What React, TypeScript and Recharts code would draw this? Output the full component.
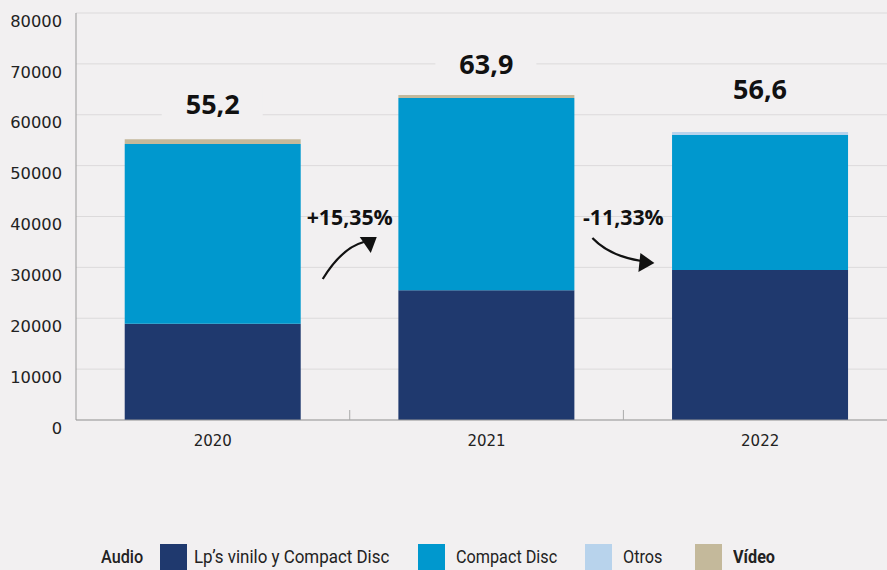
import React from 'react';
import { BarChart, Bar, XAxis, YAxis, CartesianGrid, LabelList } from 'recharts';

const years = ['2020', '2021', '2022'];
const lpsVinilo = [18900, 25500, 29500];
const compactDisc = [35350, 37800, 26500];
const otros = [0, 0, 600];
const video = [950, 600, 0];
const totalLabels = ['55,2', '63,9', '56,6'];
const changeLabels = ['+15,35%', '-11,33%'];
const yTicks = [0, 10000, 20000, 30000, 40000, 50000, 60000, 70000, 80000];

const seriesNames = ['Lp\u2019s vinilo y Compact Disc', 'Compact Disc', 'Otros', 'V\u00eddeo'];
const legendTitle = 'Audio';
const COLORS = ['#1f396e', '#0098ce', '#b8d3ec', '#c4b99b'];
const BG = '#f2f0f1';
const GAP = 0.178;

const data = years.map((y, i) => ({
  year: y,
  lps: lpsVinilo[i],
  cd: compactDisc[i],
  otros: otros[i],
  video: video[i],
}));

const TOTAL_OFFSETS = [35, 30, 42];

const Annotations = (props: any) => {
  const { x, y, width, height, value, index } = props;
  const base = y + height;
  const ppu = height / value;
  const total = lpsVinilo[index] + compactDisc[index] + otros[index] + video[index];
  const topY = base - total * ppu;
  const cx = x + width / 2;
  const ly = topY - TOTAL_OFFSETS[index];
  const boundary = x - (width * GAP) / (1 - 2 * GAP);
  const els: any[] = [];
  els.push(
    <g key="t">
      <rect x={cx - 51} y={ly - 17} width={101} height={34} fill={BG} />
      <text x={cx} y={ly} dy="0.35em" textAnchor="middle" fontFamily="Open Sans" fontWeight={700} fontSize={27} fill="#111">
        {totalLabels[index]}
      </text>
    </g>
  );
  if (index >= 1) {
    els.push(<line key="tk" x1={boundary} x2={boundary} y1={base - 10} y2={base} stroke="#aaa" strokeWidth={1} />);
    const lbl = changeLabels[index - 1];
    const up = lbl.startsWith('+');
    els.push(
      <text key="c" x={boundary} y={base - 202} dy="0.35em" textAnchor="middle" fontFamily="Open Sans" fontWeight={700} fontSize={21.3} fill="#111">
        {lbl}
      </text>
    );
    if (up) {
      const sx = boundary - 27, sy = base - 141;
      els.push(
        <g key="a">
          <path d={`M ${sx} ${sy} Q ${boundary - 8} ${base - 172} ${boundary + 14} ${base - 178}`} stroke="#111" strokeWidth={2.2} fill="none" />
          <polygon points={`${boundary + 27},${base - 183} ${boundary + 10},${base - 183} ${boundary + 21},${base - 167}`} fill="#111" />
        </g>
      );
    } else {
      const sx = boundary - 31, sy = base - 182;
      els.push(
        <g key="a">
          <path d={`M ${sx} ${sy} Q ${boundary - 14} ${base - 164} ${boundary + 18} ${base - 159}`} stroke="#111" strokeWidth={2.2} fill="none" />
          <polygon points={`${boundary + 31},${base - 157} ${boundary + 17},${base - 167} ${boundary + 15},${base - 148}`} fill="#111" />
        </g>
      );
    }
  }
  return <g>{els}</g>;
};

const YTick = (props: any) => {
  const { x, y, payload } = props;
  return (
    <text x={x - 6} y={y + 8} dy="0.35em" textAnchor="end" fontFamily="DejaVu Sans" fontSize={16.3} fill="#222">
      {payload.value}
    </text>
  );
};

const XTick = (props: any) => {
  const { x, y, payload } = props;
  return (
    <text x={x} y={y + 9} dy="0.35em" textAnchor="middle" fontFamily="DejaVu Sans" fontSize={15} fill="#222">
      {payload.value}
    </text>
  );
};

const LegendBlock = () => {
  const swX = [160, 418, 585, 695];
  const txtStyle: React.CSSProperties = {
    position: 'absolute', top: 1, fontFamily: 'Roboto', fontSize: 18, color: '#222',
    whiteSpace: 'nowrap', transform: 'scaleX(0.9)', transformOrigin: 'left', lineHeight: '24px',
  };
  return (
    <div style={{ position: 'absolute', left: 0, top: 544, width: 887, height: 26 }}>
      <span style={{ ...txtStyle, left: 101, fontWeight: 500 }}>{legendTitle}</span>
      {seriesNames.map((n, i) => (
        <React.Fragment key={n}>
          <div style={{ position: 'absolute', left: swX[i], top: 0, width: 27, height: 26, background: COLORS[i] }} />
          <span style={{ ...txtStyle, left: swX[i] + (i === 0 ? 34 : 38), fontWeight: i === 3 ? 700 : 400, transform: i === 0 ? 'scaleX(0.94)' : 'scaleX(0.9)' }}>{n}</span>
        </React.Fragment>
      ))}
    </div>
  );
};

export default function App() {
  return (
    <div style={{ position: 'fixed', left: 0, top: 0, width: 887, height: 570, background: BG, overflow: 'hidden' }}>
      <BarChart width={897} height={570} data={data} margin={{ top: 13, right: 0, left: 0, bottom: 120 }} barCategoryGap="17.8%">
        <CartesianGrid vertical={false} stroke="#dcdadb" strokeWidth={1} />
        <XAxis dataKey="year" height={30} stroke="#999" tickLine={false} tickSize={10} tick={<XTick />} interval={0} />
        <YAxis width={76} domain={[0, 80000]} ticks={yTicks} stroke="#999" tickLine={false} tick={<YTick />} />
        <Bar dataKey="lps" name={seriesNames[0]} stackId="a" fill={COLORS[0]} isAnimationActive={false}>
          <LabelList dataKey="lps" content={<Annotations />} />
        </Bar>
        <Bar dataKey="cd" name={seriesNames[1]} stackId="a" fill={COLORS[1]} isAnimationActive={false} />
        <Bar dataKey="otros" name={seriesNames[2]} stackId="a" fill={COLORS[2]} isAnimationActive={false} />
        <Bar dataKey="video" name={seriesNames[3]} stackId="a" fill={COLORS[3]} isAnimationActive={false} />
      </BarChart>
      <LegendBlock />
    </div>
  );
}
